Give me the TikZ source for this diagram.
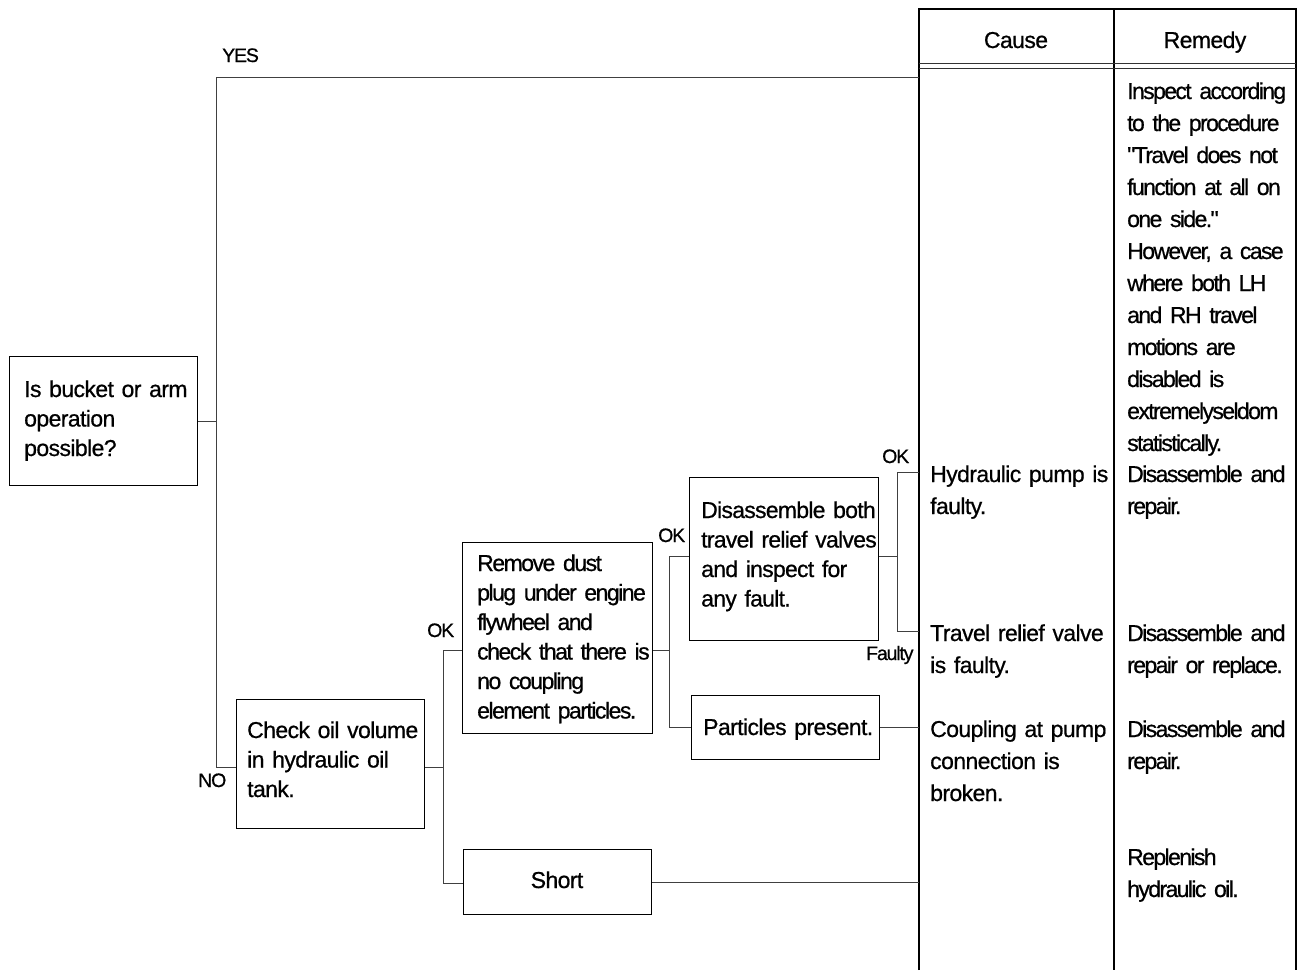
\documentclass[tikz,border=0pt]{standalone}
\usepackage{fontspec}
\setmainfont{Liberation Sans}
\newfontfamily\fA[LetterSpace=-2.6,FakeBold=0.7]{Liberation Sans}
\newfontfamily\fB[LetterSpace=-6.5,FakeBold=0.7]{Liberation Sans}
\newfontfamily\fC[LetterSpace=-3.2,FakeBold=0.7]{Liberation Sans}
\newfontfamily\fR[LetterSpace=-7,FakeBold=0.7]{Liberation Sans}
\newfontfamily\fL[LetterSpace=-6,FakeBold=0.7]{Liberation Sans}
\begin{document}
\begin{tikzpicture}[x=1pt,y=-1pt,
  box/.style={draw=black, line width=1.3pt, inner sep=0pt, anchor=north west},
  btext/.style={font=\fA\fontsize{23}{29.5}\selectfont, text width=260pt, align=left, inner sep=0pt, anchor=base west},
  ttext/.style={font=\fA\fontsize{23}{32}\selectfont, text width=200pt, align=left, inner sep=0pt, anchor=base west},
  rtext/.style={font=\fR\fontsize{23}{32}\selectfont, text width=200pt, align=left, inner sep=0pt, anchor=base west},
  htext/.style={font=\fA\fontsize{23}{32}\selectfont, inner sep=0pt, anchor=base},
  lbl/.style={font=\fL\fontsize{19.5}{24}\selectfont, inner sep=0pt, anchor=base west},
  conn/.style={draw=black!75, line width=1pt},
  tline/.style={draw=black, line width=1.3pt},
  dline/.style={draw=black!80, line width=0.9pt}]
\useasboundingbox (0,0) rectangle (1309,970);

% table
\draw[tline] (919,970) -- (919,9) -- (1296,9) -- (1296,970);
\draw[tline] (1114,9) -- (1114,970);
\draw[dline] (919,63) -- (1296,63);
\draw[dline] (919,68) -- (1296,68);
\node[htext] (hcause) at (1016,48) {Cause};
\node[htext] (hrem) at (1205,48) {Remedy};

% boxes
\node[box, minimum width=188pt, minimum height=129pt] (q1) at (9,356) {};
\node[box, minimum width=188pt, minimum height=129pt] (check) at (236,699) {};
\node[box, minimum width=190pt, minimum height=191pt] (remove) at (462,542) {};
\node[box, minimum width=189pt, minimum height=163pt] (dis) at (689,477) {};
\node[box, minimum width=188pt, minimum height=64pt] (part) at (691,695) {};
\node[box, minimum width=188pt, minimum height=65pt] (short) at (463,849) {};

% box texts
\node[btext] (q1t) at (24,397) {Is bucket or arm\\operation\\possible?};
\node[btext] (checkt) at (247,738) {Check oil volume\\in hydraulic oil\\tank.};
\node[btext, font=\fB\fontsize{23}{29.5}\selectfont] (removet) at (477,571) {Remove dust\\plug under engine\\flywheel and\\check that there is\\no coupling\\element particles.};
\node[btext, font=\fC\fontsize{23}{29.5}\selectfont] (dist) at (701,518) {Disassemble both\\travel relief valves\\and inspect for\\any fault.};
\node[btext] (partt) at (703,735) {Particles present.};
\node[htext] (shortt) at (557,888) {Short};

% junction coordinates
\coordinate (yes) at (216,77);
\coordinate (yesE) at (919,77);
\coordinate (no) at (216,767);
\coordinate (b1) at (443,767);
\coordinate (b1t) at (443,650);
\coordinate (b1b) at (443,883);
\coordinate (b2t) at (669,556);
\coordinate (b2m) at (669,650);
\coordinate (b2b) at (669,727);
\coordinate (b3t) at (897,472);
\coordinate (b3m) at (897,556);
\coordinate (b3b) at (897,631);
\coordinate (c1) at (919,472);
\coordinate (c2) at (919,631);
\coordinate (c3) at (919,727);
\coordinate (c4) at (919,882);

% connectors
\draw[conn] (q1.east) -- (q1.east -| yes);
\draw[conn] (yesE) -- (yes) -- (no) -- (no -| check.west);
\draw[conn] (b1 -| check.east) -- (b1);
\draw[conn] (b1t -| remove.west) -- (b1t) -- (b1b) -- (b1b -| short.west);
\draw[conn] (b2m -| remove.east) -- (b2m);
\draw[conn] (b2t -| dis.west) -- (b2t) -- (b2b) -- (b2b -| part.west);
\draw[conn] (c3 -| part.east) -- (c3);
\draw[conn] (c4 -| short.east) -- (c4);
\draw[conn] (b3m -| dis.east) -- (b3m);
\draw[conn] (c1) -- (b3t) -- (b3b) -- (c2);

% branch labels
\node[lbl] (lyes) at (222,62) {YES};
\node[lbl] (lno) at (198,787) {NO};
\node[lbl] (lok1) at (427,637) {OK};
\node[lbl] (lok2) at (658,542) {OK};
\node[lbl] (lok3) at (882,463) {OK};
\node[lbl] (lfaulty) at (866,660) {Faulty};

% causes
\node[ttext] (cause1) at (930,482) {Hydraulic pump is\\faulty.};
\node[ttext] (cause2) at (930,641) {Travel relief valve\\is faulty.};
\node[ttext] (cause3) at (930,737) {Coupling at pump\\connection is\\broken.};

% remedies
\node[rtext] (rem0) at (1127,99) {Inspect according\\to the procedure\\"Travel does not\\function at all on\\one side."\\However, a case\\where both LH\\and RH travel\\motions are\\disabled is\\extremelyseldom\\statistically.};
\node[rtext] (rem1) at (1127,482) {Disassemble and\\repair.};
\node[rtext] (rem2) at (1127,641) {Disassemble and\\repair or replace.};
\node[rtext] (rem3) at (1127,737) {Disassemble and\\repair.};
\node[rtext] (rem4) at (1127,865) {Replenish\\hydraulic oil.};
\end{tikzpicture}
\end{document}
